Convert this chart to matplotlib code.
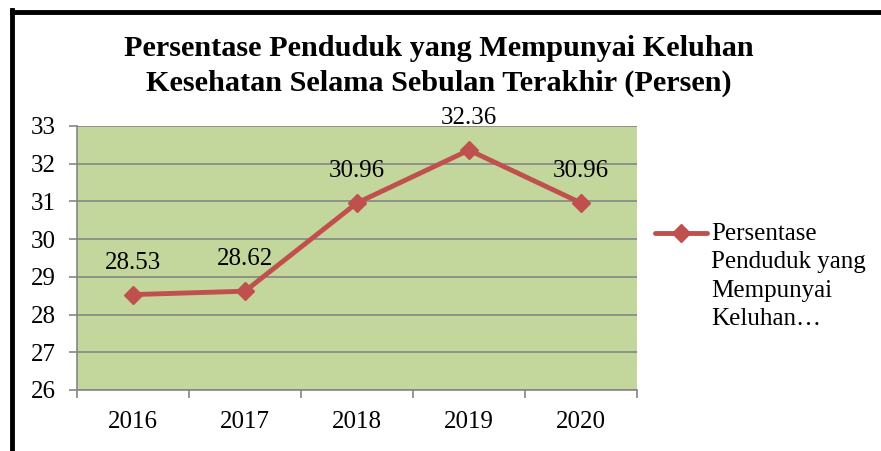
import numpy as np
import matplotlib
matplotlib.use("Agg")
import matplotlib.pyplot as plt
from matplotlib.lines import Line2D

plt.rcParams["font.family"] = ["Liberation Serif", "DejaVu Serif"]

years = ["2016", "2017", "2018", "2019", "2020"]
values = [28.53, 28.62, 30.96, 32.36, 30.96]
series_name = "Persentase\nPenduduk yang\nMempunyai\nKeluhan\u2026"
title = "Persentase Penduduk yang Mempunyai Keluhan\nKesehatan Selama Sebulan Terakhir (Persen)"

W, H = 881, 451
fig = plt.figure(figsize=(W / 100, H / 100), dpi=100)
fig.patch.set_facecolor("white")

# plot area in pixels: x 77..637, y 126..390
ax = fig.add_axes([77 / W, (H - 390) / H, (637 - 77) / W, (390 - 126) / H])
ax.set_facecolor("#C3D69B")
x = np.arange(len(years))
red = "#C0504D"
ax.plot(x, values, color=red, lw=3.5, marker="D", ms=9.5, mec=red, mfc=red, zorder=3)
for xi, v in zip(x, values):
    ax.annotate(f"{v:.2f}", (xi, v), xytext=(0, 23), textcoords="offset points",
                ha="center", va="center", fontsize=18, clip_on=False)

ax.set_xlim(-0.5, len(years) - 0.5)
ax.set_ylim(26, 33)
ax.set_yticks(range(26, 34))
ax.set_xticks(np.arange(-0.5, len(years), 1.0))
ax.set_xticklabels([])
ax.set_xticks(x, minor=True)
ax.set_xticklabels(years, minor=True)
ax.tick_params(axis="x", which="minor", length=0, pad=15, labelsize=18)
ax.tick_params(axis="x", which="major", length=6, color="#868686", width=1.2, direction="out")
ax.tick_params(axis="y", length=6, color="#868686", width=1.2, pad=9, labelsize=18)
ax.grid(axis="y", color="#868686", lw=1.2)
ax.set_axisbelow(True)
for s in ("top", "right"):
    ax.spines[s].set_visible(False)
for s in ("left", "bottom"):
    ax.spines[s].set_color("#868686")
    ax.spines[s].set_linewidth(1.2)

fig.text(439 / W, 1 - 66 / H, title, ha="center", va="center", fontsize=21.8,
         fontweight="bold", linespacing=1.32)

# legend drawn by hand so the marker sits on the first text line
ly = 1 - 233 / H
fig.add_artist(Line2D([655 / W, 707 / W], [ly, ly], color=red, lw=3.5,
                      solid_capstyle="round", transform=fig.transFigure))
fig.add_artist(Line2D([681 / W], [ly], color=red, marker="D", ms=9.5, ls="none",
                      transform=fig.transFigure))
fig.text(711 / W, ly + 10 / H, series_name, ha="left", va="top", fontsize=18,
         linespacing=1.38)

# chart frame (only top and left visible in the crop)
fig.add_artist(Line2D([11.5 / W, 1], [1 - 11.5 / H, 1 - 11.5 / H], color="black", lw=3.5,
                      transform=fig.transFigure))
fig.add_artist(Line2D([11.5 / W, 11.5 / W], [0, 1 - 10 / H], color="black", lw=3.5,
                      transform=fig.transFigure))

fig.savefig("out.png", dpi=100)
